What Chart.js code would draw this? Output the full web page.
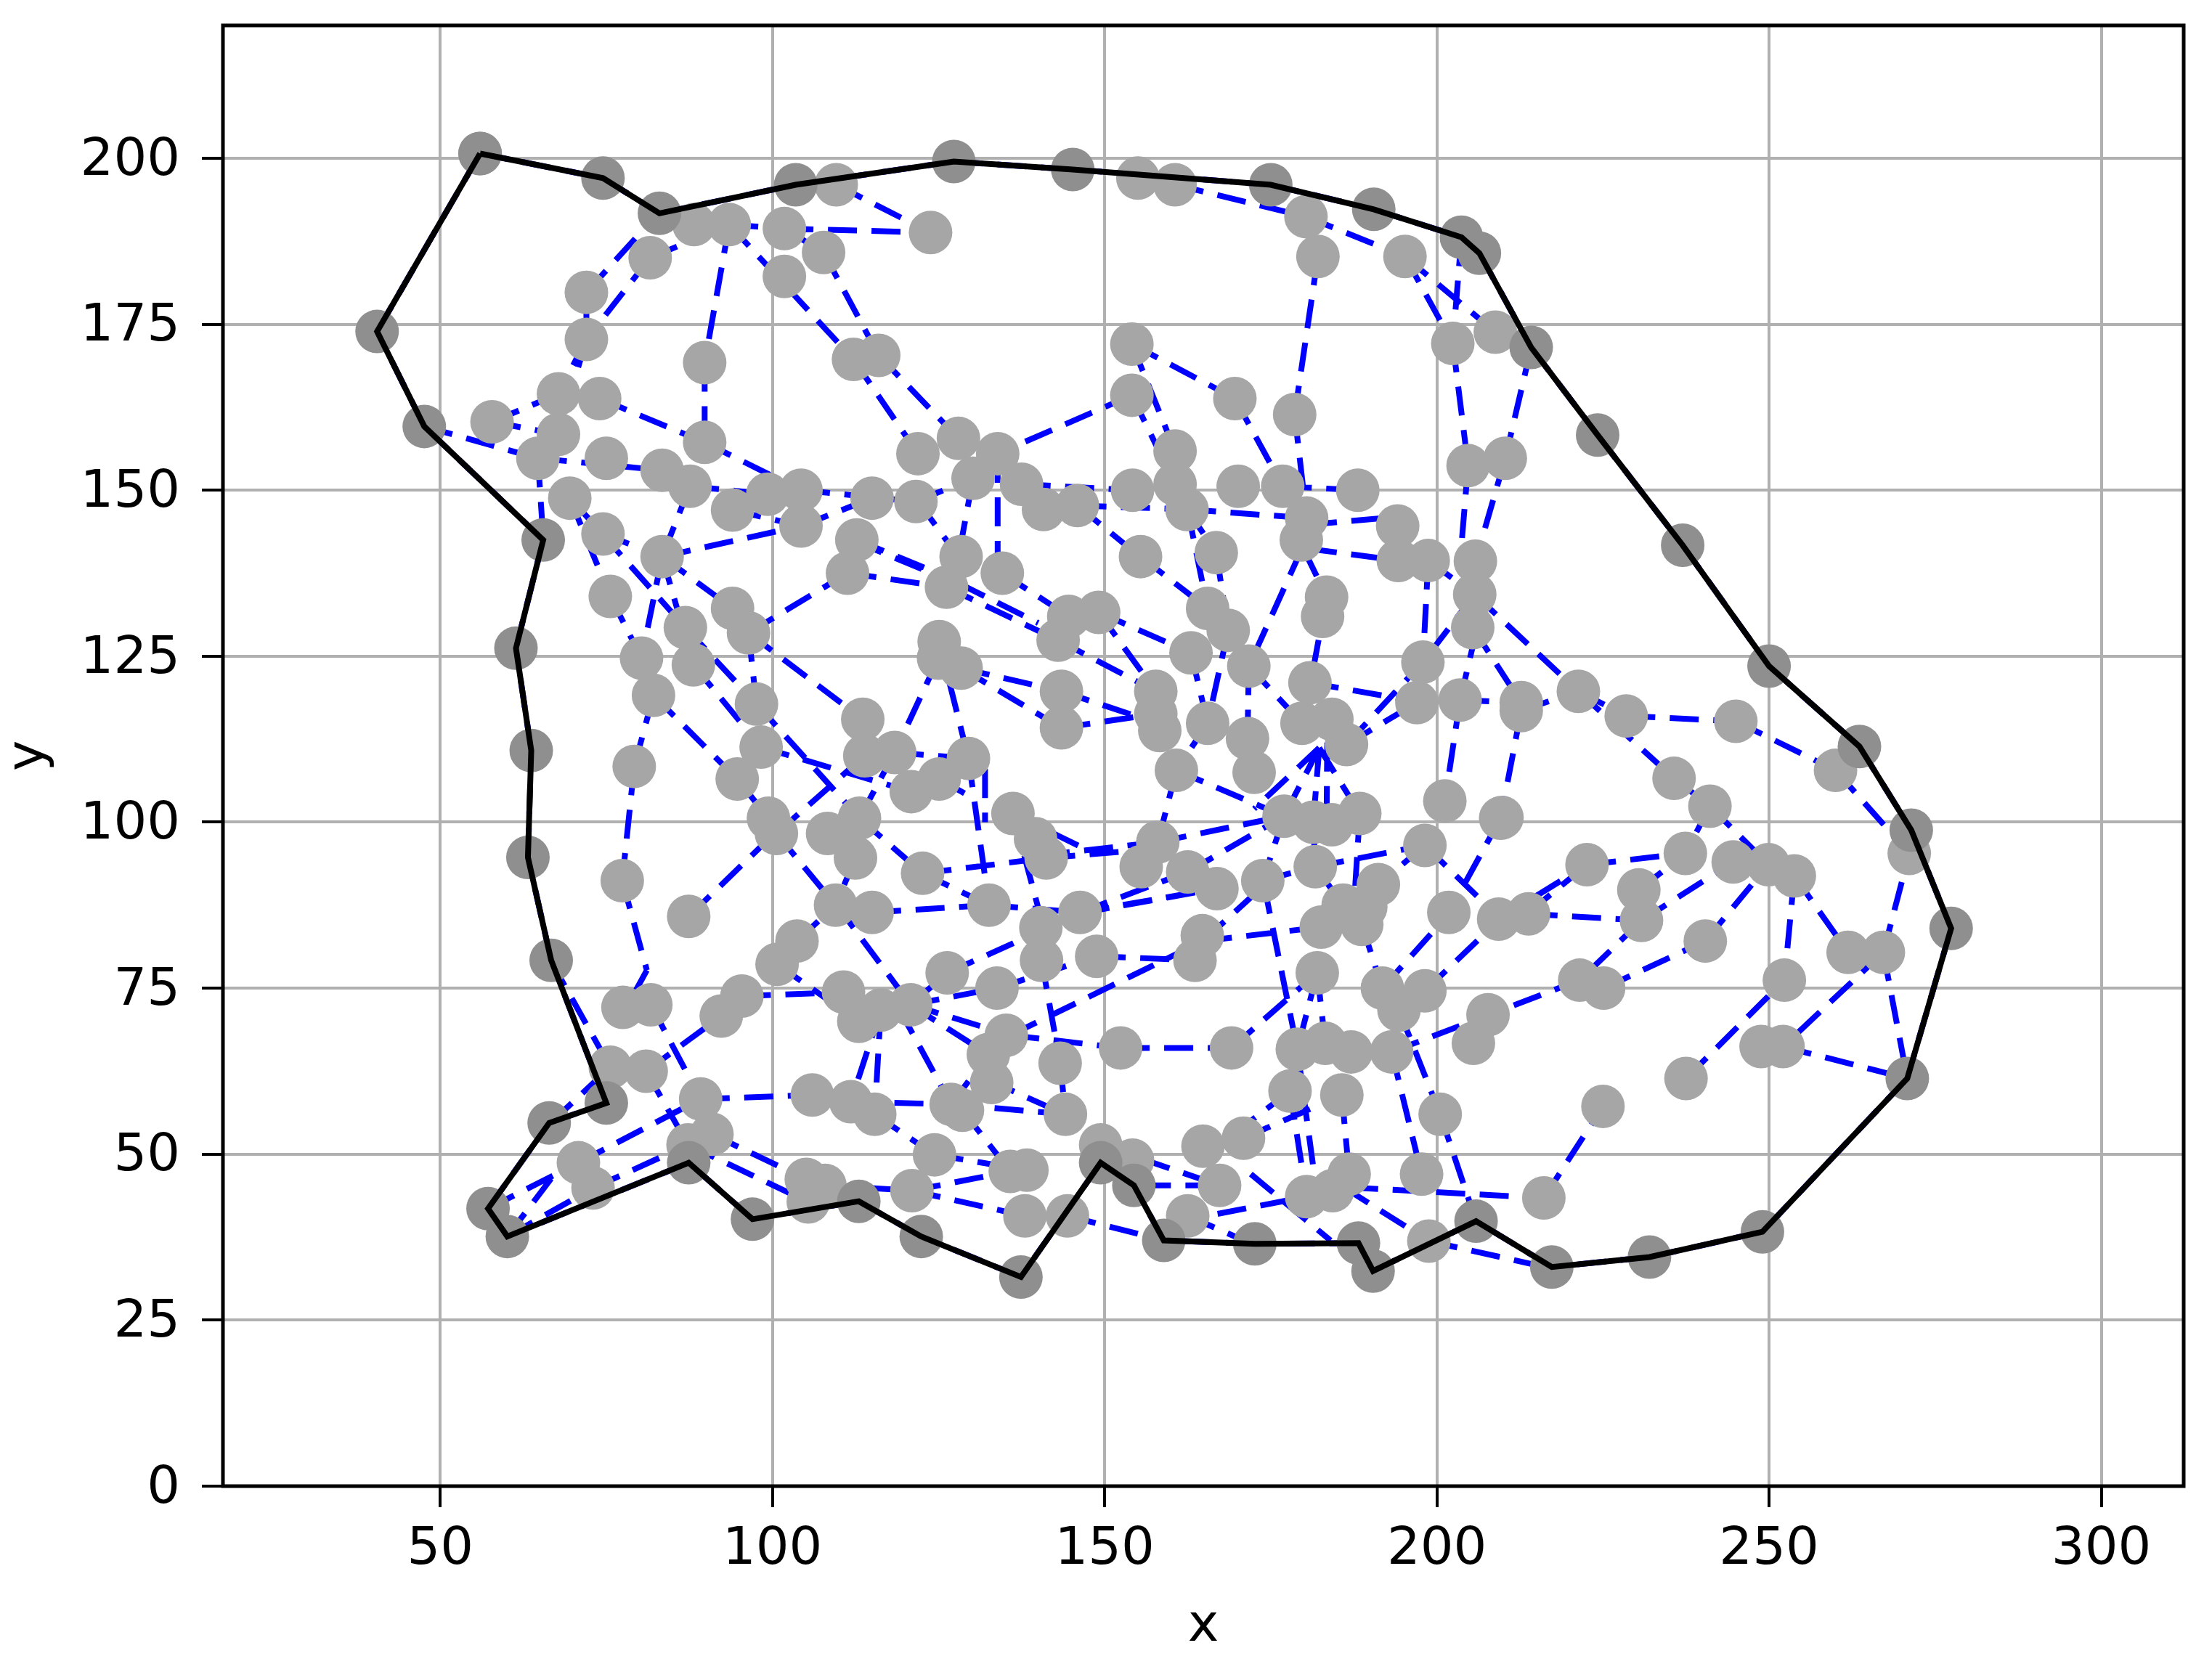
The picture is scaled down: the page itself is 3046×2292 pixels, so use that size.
<!DOCTYPE html>
<html>
<head>
<meta charset="utf-8">
<style>
  html, body { margin: 0; padding: 0; background: #fff; }
  canvas { display: block; }
</style>
<script src="https://cdn.jsdelivr.net/npm/chart.js@4"></script>
</head>
<body>
<canvas id="area" width="3046" height="2292"></canvas>
<script>
var xTicks = [50,100,150,200,250,300];
var yTicks = [0,25,50,75,100,125,150,175,200];

// outer boundary, closed back onto the first vertex
var hullX = [56,74.5,83,103.5,127.3,145.2,175,190.5,203.7,206.4,214.2,224.2,237,250,263.6,271.4,277.4,270.8,249,232,217.3,205.9,190.4,188.2,172.6,158.9,154.4,149.4,137.4,122.4,113,97,87.4,60.1,57.2,66.4,75,66.7,63.2,63.7,61.4,65.5,47.6,40.5,56];
var hullY = [200.7,197,191.7,196,199.5,198.3,196,192.3,188.1,185.7,171.5,158.3,141.7,123.5,111.4,98.8,84,61.4,38.3,34.5,33,39.9,32.4,36.6,36.5,37,45.3,48.7,31.5,37.6,42.9,40.2,48.7,37.6,41.8,54.7,57.7,79.2,94.7,110.8,126.2,142.5,159.6,173.9,200.7];

var pointX = [
  88.2,93.5,81.6,101.8,107.7,101.8,109.6,123.8,72,72,89.8,112.2,116,67.8,74,57.8,67.8,64.7,75,89.8,
  83.4,87.6,69.5,99.3,104.3,94,104.3,115,74.5,83.4,112.7,111.3,
  155,160.6,180.3,182.1,195.2,154.1,154.1,169.6,178.6,202.4,208.8,
  121.9,128,133.9,130.2,137.5,121.6,140.8,145.9,154.2,160.6,160.6,162.4,170.1,176.8,188.1,180.4,179.6,194.1,194.2,198.7,155.4,166.8,
  204.7,210.3,205.8,205.7,205.4,
  75.6,94,96.4,86.9,88.1,80.3,82.1,
  128.4,134.6,126.2,125.1,125,128.4,97.6,98.3,113.6,113.9,118.4,79.2,94.7,120.9,125.1,129.5,
  99.4,100.6,108.3,113.1,112.5,136.2,139.6,141.2,77.4,122.6,87.4,109.5,115,132.6,
  183.4,182.8,165.5,168.6,163,171.7,144.6,149.1,143,143.5,143.5,157.7,157.7,158.3,165.5,160.8,171.5,172.5,180.9,179.7,184.2,186.4,
  197.9,197,203.5,212.7,212.7,221.3,201.2,209.6,198.2,177,181.4,184.2,188.4,158,155.5,162.5,166.9,181.7,173.8,191.2,185.9,146.3,201.8,209.3,213.8,140.4,164.7,182.6,188.7,189.3,
  103.7,100.7,77.5,81.7,95.4,92.3,75.6,81,89.2,90.9,87.3,70.8,73,106,111.8,115.4,126.3,133.8,110.7,113,120.8,116.3,132.5,133,135.2,126.9,128.6,124.4,121,105.1,107.9,105.4,135.8,
  140.5,148.8,163.6,182,191.8,198.2,194.3,207.7,205.5,143.3,152.4,169.1,144.1,179,183.2,187.1,193.2,177.9,185.7,200.5,164.8,170.9,149.4,154.2,138.3,138,144.4,167.3,180.4,184.3,186.8,197.7,216.1,162.5,198.8,
  260,235.7,241.1,209.8,271.1,237.4,244.6,249.9,253.8,222.6,230.4,230.8,240.4,261.9,267.2,252.3,221.5,225.1,248.8,252.1,237.5,225,245,228.5
];
var pointY = [
  190,190,185,189.4,185.8,182.2,196,188.8,179.8,172.7,169.2,169.7,170.3,164.5,163.8,160.3,158.4,154.8,154.8,157.2,
  153,150.6,148.8,149.4,150,147,144.6,148.8,143.4,140,142.5,137.5,
  197,196,191.2,185.2,185.2,172,164.3,163.8,161.4,172.1,173.8,
  155.5,157.8,155.5,151.8,150.9,148.3,147.1,147.7,150,155.9,150.9,147.1,150.6,150.6,150,145.8,142.5,144.6,139.4,139.4,140,140.6,
  153.7,154.8,139.3,134.3,129.3,
  134,132.2,128.5,129.3,123.7,124.7,119.1,
  140,137.5,135.4,127.2,124.7,123.2,117.8,111.3,115.5,110,110.5,108.4,106.5,104.6,106.5,109.6,
  100.6,98.3,98.3,100.6,94.6,101.3,97.5,94.6,91.2,92.3,85.8,87.5,86.4,87.5,
  133.9,131,132.2,128.9,125.5,123.5,131,131.6,127.4,119.7,114.2,119.7,116.3,113.8,114.9,107.8,112.6,107.5,121,114.9,115.5,111.7,
  124.1,118,118.4,116.8,118,119.7,103.2,100.6,96.5,100.9,100,99.6,101.3,97,93.3,92.5,90,93.3,91.2,90.6,87.5,86.4,86.4,85.4,86.2,84.1,82.9,84.2,84.6,87.2,
  82.1,78.6,72.1,72.5,73.8,70.8,63.1,62.5,58.3,53,51.4,48.7,44.9,58.9,57.9,56,77.3,75,74.4,70,72.5,71.7,65,60.8,67.9,57.5,56.6,49.9,44.5,46.2,45.3,42.8,47.4,
  79.2,79.8,79.2,77.3,75,74.6,71.7,71,66.7,63.7,66,66,56,65.8,66.7,65.4,65.4,59.5,58.9,56,51.2,52.4,51.4,49.1,47.6,40.7,40.7,45.3,43.6,44.5,47,47,43.4,40.7,36.9,
  107.8,106.6,102.4,100.7,95.3,95.3,94,93.6,91.9,93.6,89.8,85.2,82.1,80.4,80.4,76.2,76.2,75,66.2,66.2,61.4,57.2,115.2,116
];

// network edges as x,y,x,y runs
var blueRuns = [
  [47.6,159.6,64.7,154.8],[57.8,160.3,67.8,164.5],[57.8,160.3,67.8,158.4],
  [72,172.7,67.8,164.5],[72,172.7,67.8,158.4],[72,179.8,72,172.7],[81.6,185,72,172.7],[72,179.8,82.8,191.7],
  [81.6,185,93.5,190],[93.5,190,89.8,169.2],[89.8,169.2,89.8,157.2],[93.5,190,112.2,169.7],[107.7,185.8,116,170.3],
  [112.2,169.7,121.9,155.5],[116,170.3,128,157.8],[93.5,190,101.8,189.4],[101.8,189.4,123.8,188.8],[109.6,196,123.8,188.8],
  [101.8,189.4,107.7,185.8],[74,163.8,89.8,157.2],[89.8,157.2,104.3,150],[64.7,154.8,83.4,153],[87.6,150.6,99.3,149.4],
  [64.7,154.8,65.5,142.9],[69.5,148.8,74.5,143.4],[87.6,150.6,83.4,140],[83.4,140,104.3,144.6],[94,147,104.3,144.6],
  [104.3,150,121.6,148.3],[104.3,144.6,115,148.8],[137.5,150.9,154.2,150],[121.6,148.3,130.2,151.8],[145.9,147.7,162.4,147.1],
  [162.4,147.1,180.4,145.8],[176.8,150.6,188.1,150],[178.6,161.4,180.4,145.8],[178.6,161.4,182.1,185.2],[154.1,172,169.6,163.8],
  [154.1,172,160.6,155.9],[154.1,164.3,133.9,155.5],[154.1,164.3,160.6,150.9],[169.6,163.8,176.8,150.6],
  [160.6,196,180.3,191.2],[180.3,191.2,195.2,185.2],[195.2,185.2,202.4,172.1],[203.7,188.1,202.4,172.1],[195.2,185.2,208.8,173.8],
  [202.4,172.1,204.7,153.7],[214.2,171.5,210.3,154.8],[210.3,154.8,205.8,139.3],[204.7,153.7,203.5,139.3],
  [69.5,148.8,75.6,134],[75.6,134,80.3,124.7],[74.3,143.5,86.9,129.3],[83.4,140,80.3,124.7],[83.4,140,88.1,123.7],[83.4,140,94,132.2],
  [74.3,143.5,83.4,140],[96.4,128.5,111.3,137.5],[111.3,137.5,126.2,135.4],[112.4,142.3,130,135],[126.2,135.4,143,127.4],
  [134.6,137.5,144.6,131],[128,136,140,130],[133.9,155.5,133.9,137.5],[130.2,151.8,128,140],[121.9,148.3,128,140],
  [145.9,147.7,155.3,140],[162.4,147.1,166.8,140.6],[162.5,147,165.5,132.2],[166.8,140.6,168.6,128.9],[155.4,140,165.5,132.2],
  [179.7,141.2,171.7,123.5],[183.4,133.9,181,121],[180,141,183.4,134],[180.6,144.8,194.2,146],[180.6,141.2,194.2,139.4],
  [198.7,139.4,197.9,124.1],[198.7,139.4,205.7,134.3],[205.7,134.3,197.9,124.1],[205.7,134.3,221.3,119.7],[205.4,129.3,212.7,118],
  [206,129,203.5,118.4],[203.5,118.4,201.2,103.2],[203.5,118.4,212.7,118],[212.7,116.8,221.3,119.7],[212.7,116.8,209.6,100.6],
  [180.9,121,197.9,118],[186.4,111.7,197.9,124.1],[186.4,111.7,197,118],
  [183.5,112,183.4,100],[182.3,111.2,177,100.9],[182.3,111.2,172.5,102],[182.3,111.2,188.4,101.3],[182.3,111.2,181.4,100],
  [160.8,107.8,177,100.9],[165.5,114.9,160.8,107.8],[160.8,107.8,158,97],[158,97,177,100.9],[162.5,92.5,177,100.9],
  [140.4,95,158,97],[141.2,94.6,158,96],[181.7,93.3,198.2,96.5],[188.4,101.3,187.5,87],[198.2,96.5,191.2,90.6],
  [198.2,96.5,209.8,85.2],[209.6,100.6,201.8,86.4],[209.3,85.4,222.6,93.6],[213.8,86.2,230.8,85.2],
  [128.4,123.2,143.5,119.7],[128.4,123.2,143.5,114.2],[143.5,119.7,157.7,115],[143.5,114.2,157.7,116.3],
  [143,127.4,157.7,119.7],[149.1,131.6,157.7,119.7],[149.1,131.6,163,125.5],[168.6,128.9,165.5,114.9],[163,125.5,165.5,114.9],
  [171.7,123.5,171.5,112.6],[171.7,123.5,179.7,114.9],
  [86.9,129.3,97.6,117.8],[96.4,128.5,97.6,117.8],[88.1,123.7,98.3,111.3],[96.4,128.5,113.6,115.5],[82.1,119.1,94.7,106.5],
  [82.1,119.1,79.2,108.4],[79.2,108.4,77.4,91.2],[77.4,91.2,81.1,77.7],[81.1,77.7,78,72],[94.7,106.5,99.4,100.6],
  [98.3,111.3,120.9,104.6],[97.6,117.8,113.1,100.6],[100.6,98.3,113.9,110],[118.4,110.5,113.1,100.6],[118.4,110.5,129.5,109.6],
  [129.5,109.6,132.6,87.5],[125.1,106.5,129.5,104],[132,108,132,100],[122.6,92.3,141.2,94.6],[122.6,92.3,132.6,87.5],
  [136.2,101.3,140.7,84.5],[113.1,100.6,122.6,92.3],[136.2,101.3,147,96],[100.6,98.3,109.5,87.5],[112.5,94.6,109.5,87.5],
  [100,98,87.4,85.8],[115,86.4,132.6,87.5],[132.6,87.5,146.3,86.4],[109.6,87.6,120.8,72.5],[120.8,72.5,126.3,77.3],
  [103.7,82.1,109.6,87.6],[126.3,77.3,146.4,86.3],[133.8,75,148.8,79.8],[148.8,79.8,163.6,79.2],[135.8,67.9,164.8,82.1],
  [146.4,86.3,166.9,90],[146.3,86.4,162.5,92.5],[140.5,79.2,143.3,63.7],[135.8,67.9,152.4,66],[152.4,66,169.1,66],[169.1,66,182,77.3],
  [174,90.5,179,65.8],[164.8,82.1,182.6,84.2],[182,77.3,179,65.8],[182,77.3,183.2,66.7],[188.7,84.6,191.8,75],[191.8,75,193.2,65.4],
  [191.8,75,201.9,86.3],[198.2,74.6,209.4,85.3],[193.2,65.4,221.5,76.2],[193.2,65.4,197.7,47],[194.3,71.7,200.5,56],[200.5,56,205.9,39.9],
  [185.7,58.9,186.8,47],[177.9,59.5,180.4,43.6],[179,65.8,182,43.6],[170.9,52.4,185.7,58.9],[177.9,59.5,172,55],
  [149.4,51.4,167.3,45.3],[167,41,180.4,43.6],[172,47,184,37],[162.5,40.7,172.6,36.3],[155.6,45.3,167.3,45.3],[144.4,40.7,158.9,37],
  [186.8,45,216.1,43.4],[186,45,198.8,36.9],[198.8,36.9,217.2,32.8],[216.1,43.4,225,57.2],
  [132.4,61.2,144,56],[126.9,57.5,144.1,56],[143.3,63.7,144.1,56],[128.6,56.6,135.8,47.4],[115.4,56,124.4,49.9],
  [121,44.5,135.8,47.4],[121,44.5,138,40.7],[124.4,49.9,138.3,47.6],[107.9,45.3,121,44.5],[90.9,53,105.1,46.2],[87.3,51.4,105.4,42.8],
  [73,44.9,87.3,51.4],[70.8,48.7,89.2,58.3],[81,62.5,87.3,51.4],[66.6,54.7,75.6,63.1],[66.6,79.2,75.6,63.1],[81.7,72.5,89.2,58.3],
  [81,62.5,92.3,70.8],[95.4,73.8,110.7,74.4],[100.7,78.6,113,70],[120.8,72.5,133.8,75],[120.8,72.5,135.8,67.9],[120.8,72.5,132.5,65],
  [116.3,71.7,115.4,56],[116.3,71.7,111.8,57.9],[119,72,126.9,57.5],[126.9,57.5,132.5,65],[111.8,57.9,126.9,57.5],[89.2,58.3,106,58.9],
  [57.2,41.8,70.8,48.7],[60.1,37.6,71,52],[60.1,37.6,73,44.9],
  [221.3,119.7,235.7,106.6],[235.7,106.6,241.1,102.4],[241.1,102.4,237.4,95.3],[241.1,102.4,249.9,93.6],[245,115.2,260,107.8],
  [260,107.8,271.1,95.3],[222.6,93.6,237.4,95.3],[230.4,89.8,237.4,95.3],[213.7,86.3,222.6,93.6],[230.8,85.2,221.5,76.2],
  [230.8,85.2,244.6,94],[225.1,75,240.4,82.1],[240.4,82.1,249.9,93.6],[253.8,91.9,252.3,76.2],[253.8,91.9,261.9,80.4],[267.2,80.4,271.1,95.3],
  [267.2,80.4,252.1,66.2],[267.2,80.4,270.8,61.4],[252.1,66.2,270.8,61.4],[237.5,61.4,252.3,76.2],
  [221.3,119.7,228.5,116],[228.5,116,245,115.2],[125,124.7,118.4,110.5],[125.1,127.2,129.5,109.6],
  [177,100.9,173.8,91.2],[181.4,100,181.7,93.3],[173.8,91.2,181.7,93.3],[181.7,93.3,185.9,87.5],[146.3,86.4,166.9,90],
  [164.8,82.1,174,90.5],[112.7,142.5,128.6,136]
];

var ink = '#000000';
var tickFont = { family: 'DejaVu Sans', size: 72 };

function blueData() {
  var out = [];
  blueRuns.forEach(function (run) {
    for (var i = 0; i < run.length; i += 2) out.push({ x: run[i], y: run[i + 1] });
    out.push({ x: null, y: null });
  });
  for (var h = 0; h < hullX.length - 1; h++) {
    out.push({ x: hullX[h], y: hullY[h] });
    out.push({ x: hullX[h + 1], y: hullY[h + 1] });
    out.push({ x: null, y: null });
  }
  return out;
}
function pairs(xs, ys) {
  return xs.map(function (v, i) { return { x: v, y: ys[i] }; });
}

var frame = {
  id: 'frame',
  afterDraw: function (chart) {
    var a = chart.chartArea, c = chart.ctx;
    c.save();
    c.strokeStyle = ink;
    c.lineWidth = 5;
    c.strokeRect(a.left, a.top, a.right - a.left, a.bottom - a.top);
    c.restore();
  }
};

var ctx = document.getElementById('area');
var myChart = new Chart(ctx, {
  type: 'scatter',
  plugins: [frame],
  data: {
    datasets: [
      { label: 'boundary', data: pairs(hullX, hullY), showLine: true, borderColor: ink, borderWidth: 8, pointRadius: 0, order: 1 },
      { label: 'boundary points', data: pairs(hullX, hullY), backgroundColor: '#8f8f8f', borderWidth: 0, pointRadius: 30, order: 2 },
      { label: 'points', data: pairs(pointX, pointY), backgroundColor: '#a6a6a6', borderWidth: 0, pointRadius: 30, order: 3 },
      { label: 'edges', data: blueData(), showLine: true, spanGaps: false, borderColor: '#0000ff', borderWidth: 8, borderDash: [40, 20], pointRadius: 0, order: 4 }
    ]
  },
  options: {
    responsive: false,
    animation: false,
    layout: { padding: { top: 35, right: 39, left: 0, bottom: 0 } },
    plugins: { legend: { display: false }, title: { display: false }, tooltip: { enabled: false } },
    scales: {
      x: {
        min: 17.3, max: 312.4,
        afterBuildTicks: function (s) { s.ticks = xTicks.map(function (v) { return { value: v }; }); },
        afterFit: function (s) { s.height = 245; s.paddingLeft = 0; s.paddingRight = 0; },
        grid: { color: '#b0b0b0', lineWidth: 4, tickColor: ink, tickWidth: 4, tickLength: 29 },
        border: { display: false },
        ticks: { color: ink, font: tickFont, padding: 16, maxRotation: 0, autoSkip: false },
        title: { display: true, text: 'x', color: ink, font: tickFont, padding: { top: 0, bottom: 8 } }
      },
      y: {
        min: 0, max: 220,
        afterBuildTicks: function (s) { s.ticks = yTicks.map(function (v) { return { value: v }; }); },
        afterFit: function (s) { s.width = 307; s.paddingTop = 0; s.paddingBottom = 0; },
        grid: { color: '#b0b0b0', lineWidth: 4, tickColor: ink, tickWidth: 4, tickLength: 29 },
        border: { display: false },
        ticks: { color: ink, font: tickFont, padding: 30, labelOffset: 4, autoSkip: false },
        title: { display: true, text: 'y', color: ink, font: tickFont, padding: { top: -3, bottom: 0 } }
      }
    }
  }
});
</script>
</body>
</html>
